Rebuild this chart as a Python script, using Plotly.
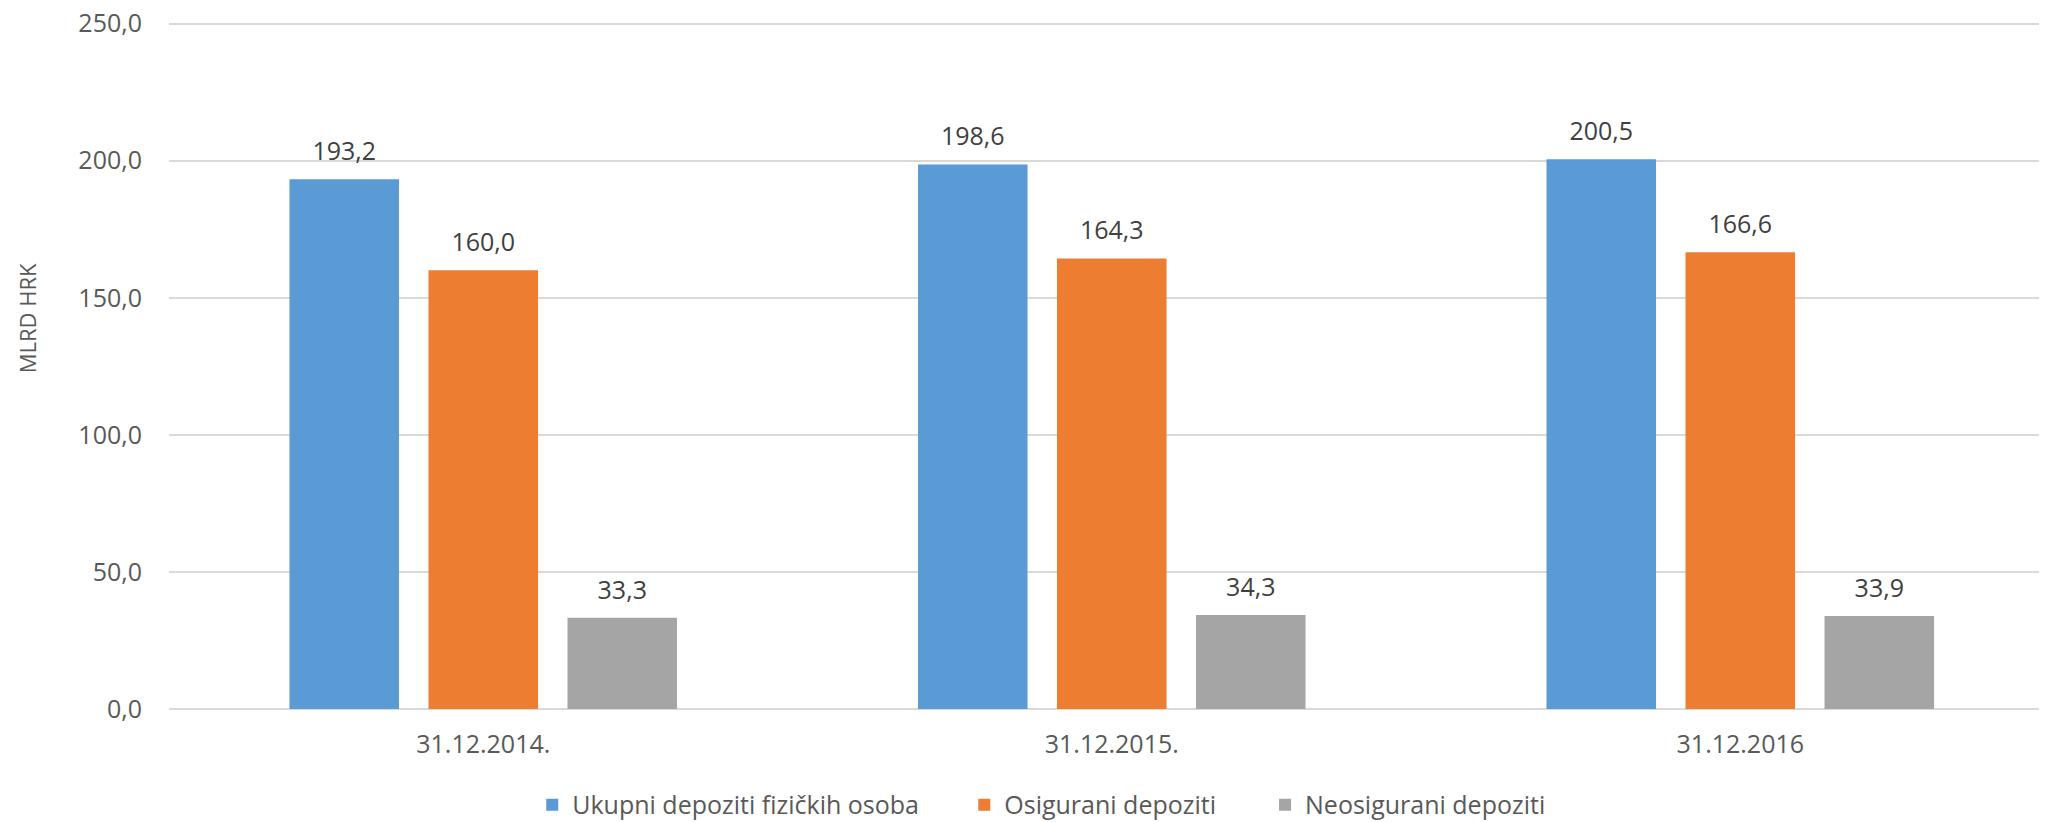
import plotly.graph_objects as go

# dates on the x axis
dates = ['31.12.2014.', '31.12.2015.', '31.12.2016']

# values in MLRD HRK
ukupni = [193.2, 198.6, 200.5]
osigurani = [160.0, 164.3, 166.6]
neosigurani = [33.3, 34.3, 33.9]

series_names = ['Ukupni depoziti fizičkih osoba', 'Osigurani depoziti', 'Neosigurani depoziti']
colors = ['#5B9BD5', '#ED7D31', '#A5A5A5']
legend_ids = ['legend', 'legend2', 'legend3']
legend_x = [0.2571, 0.4690, 0.6165]

FONT = 'Open Sans'
GAP = 0.3365

fig = go.Figure()

for i, (name, vals, col) in enumerate(zip(series_names, [ukupni, osigurani, neosigurani], colors)):
    fig.add_trace(go.Bar(
        x=dates,
        y=vals,
        name=name,
        offsetgroup=str(i),
        marker=dict(color=col, line=dict(width=0)),
        legend=legend_ids[i],
    ))
    # value labels, grouped the same way as the bars
    fig.add_trace(go.Scatter(
        x=dates,
        y=vals,
        mode='markers+text',
        offsetgroup=str(i),
        marker=dict(size=19, opacity=0),
        text=[f'{v:.1f}'.replace('.', ',') for v in vals],
        textposition='top center',
        textfont=dict(family=FONT, size=25, color='#404040'),
        showlegend=False,
        hoverinfo='skip',
        cliponaxis=False,
    ))

legend_style = dict(
    orientation='h',
    xref='container', yref='container',
    xanchor='left',
    y=0.0209, yanchor='middle',
    font=dict(family=FONT, size=25, color='#595959'),
    bgcolor='rgba(0,0,0,0)',
)

fig.update_layout(
    width=2039,
    height=814,
    margin=dict(l=161, r=0, t=14, b=113),
    paper_bgcolor='white',
    plot_bgcolor='white',
    barmode='group',
    bargap=GAP,
    bargroupgap=0.212,
    scattermode='group',
    scattergap=GAP,
    separators=',.',
    font=dict(family=FONT, size=25, color='#595959'),
    showlegend=True,
    legend=dict(legend_style, x=legend_x[0]),
    legend2=dict(legend_style, x=legend_x[1]),
    legend3=dict(legend_style, x=legend_x[2]),
    xaxis=dict(
        type='category',
        range=[-0.5, 2.488],
        automargin=False,
        showgrid=False,
        showline=False,
        ticks='',
        ticklabelstandoff=18,
        tickfont=dict(family=FONT, size=25, color='#595959'),
    ),
    yaxis=dict(
        range=[0, 250.6],
        tickvals=[0, 50, 100, 150, 200, 250],
        tickformat='.1f',
        automargin=False,
        ticklabeloverflow='allow',
        showgrid=True,
        gridcolor='#D9D9D9',
        gridwidth=2,
        zeroline=True,
        zerolinecolor='#D9D9D9',
        zerolinewidth=2,
        showline=False,
        ticks='',
        ticklabelstandoff=26,
        tickfont=dict(family=FONT, size=25, color='#595959'),
    ),
    annotations=[dict(
        text='MLRD HRK',
        textangle=-90,
        xref='paper', yref='paper',
        x=-0.0756, y=0.5688,
        xanchor='center', yanchor='middle',
        showarrow=False,
        font=dict(family=FONT, size=22, color='#595959'),
    )],
)

fig.write_html('out.html')
